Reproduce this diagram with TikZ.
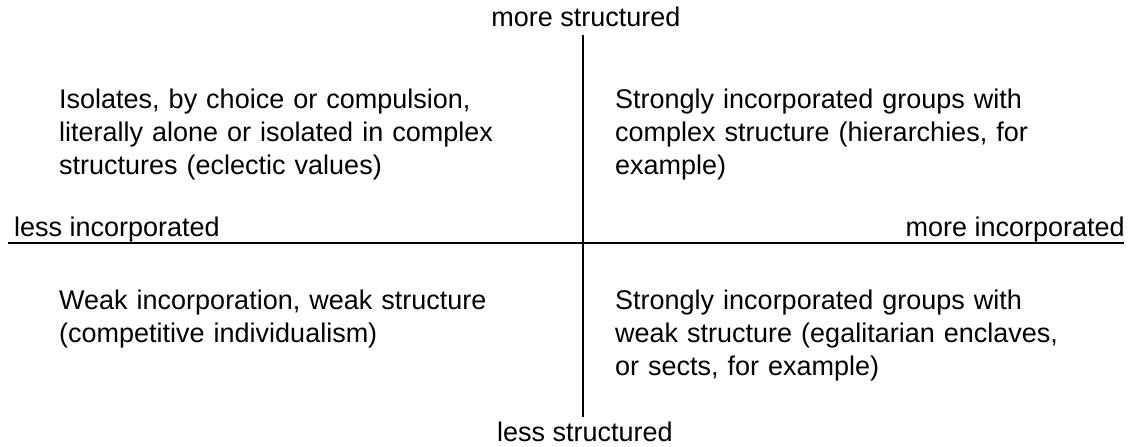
\documentclass[tikz,border=0pt]{standalone}
\usepackage{fontspec}
\setmainfont{Liberation Sans}
\begin{document}
\begin{tikzpicture}[x=1pt,y=-1pt,
    axis/.style={line width=2pt,black},
    axislabel/.style={inner sep=0pt,font=\fontsize{27pt}{33pt}\selectfont},
    quadtext/.style={inner sep=0pt,anchor=base west,text width=520pt,align=left,
      font=\fontsize{27pt}{33pt}\selectfont}]
  \useasboundingbox (0,0) rectangle (1130,447);

  % ends of the two axes
  \coordinate (top) at (583,35);
  \coordinate (bottom) at (583,417);
  \coordinate (left) at (8,243);
  \coordinate (right) at (1124,243);

  \draw[axis] (top) -- (bottom);
  \draw[axis] (left) -- (right);

  % axis labels
  \node[axislabel,anchor=base] (moreS) at (586,27) {more structured};
  \node[axislabel,anchor=base] (lessS) at (585,441) {less structured};
  \node[axislabel,anchor=base west] (lessI) at (14,236) {less incorporated};
  \node[axislabel,anchor=base east] (moreI) at (1125,236) {more incorporated};

  % quadrant descriptions
  \node[quadtext] (tl) at (59,108) {Isolates, by choice or compulsion,\\literally alone or isolated in complex\\structures (eclectic values)};
  \node[quadtext] (tr) at (615,108) {Strongly incorporated groups with\\complex structure (hierarchies, for\\example)};
  \node[quadtext] (bl) at (59,309) {Weak incorporation, weak structure\\(competitive individualism)};
  \node[quadtext] (br) at (615,309) {Strongly incorporated groups with\\weak structure (egalitarian enclaves,\\or sects, for example)};
\end{tikzpicture}
\end{document}
